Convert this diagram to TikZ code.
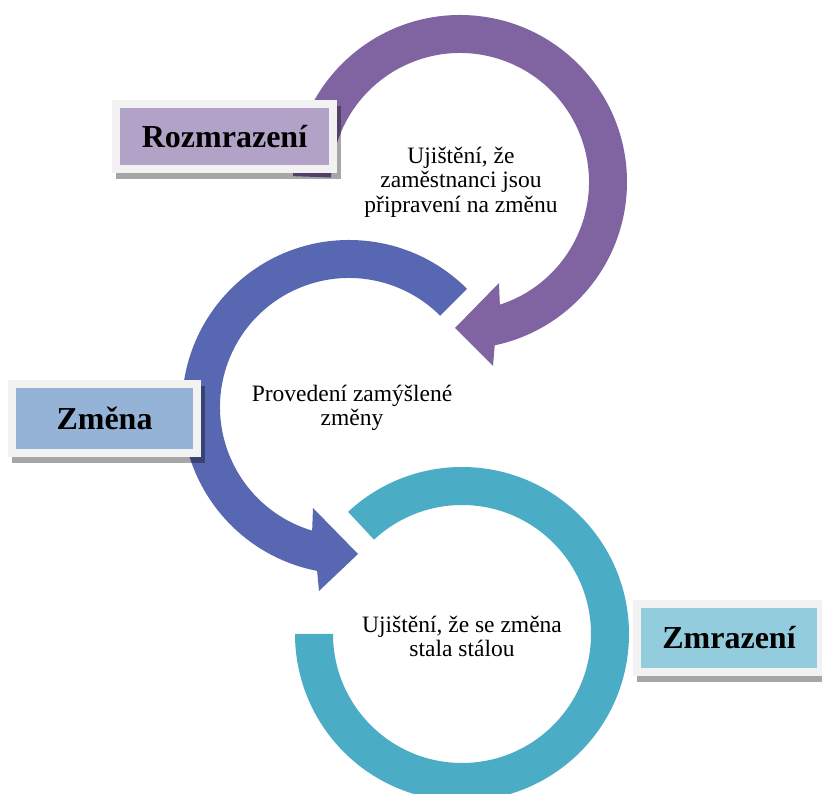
\documentclass[tikz,border=0pt]{standalone}
\usepackage{fontspec}
\setmainfont{Liberation Serif}
\usetikzlibrary{shadows}

\definecolor{ringpurple}{HTML}{8064A2}
\definecolor{ringblue}{HTML}{5867B2}
\definecolor{ringteal}{HTML}{4BACC6}
\definecolor{fillpurple}{HTML}{B3A2C7}
\definecolor{fillblue}{HTML}{95B3D7}
\definecolor{fillteal}{HTML}{93CDDD}
\definecolor{framegray}{HTML}{F2F2F2}

\tikzset{
  phasebox/.style={
    fill=framegray, inner sep=0pt,
    font=\fontsize{32}{38}\selectfont\bfseries,
    drop shadow={shadow xshift=3.5pt, shadow yshift=-6.5pt, fill=black, opacity=0.35},
    path picture={\fill[#1]
      ([shift={(8pt,8pt)}]path picture bounding box.south west) rectangle
      ([shift={(-8pt,-8pt)}]path picture bounding box.north east);}
  },
  steptext/.style={align=center, inner sep=0pt, font=\fontsize{23.5}{24.5}\selectfont},
}

\begin{document}
\begin{tikzpicture}[x=1pt, y=1pt]
  \useasboundingbox (0,0) rectangle (822,794);

  % freeze ring (teal), open at the left
  \begin{scope}[shift={(462,160)}]
    \fill[ringteal] (133:167pt) arc[start angle=133, end angle=-180, radius=167pt]
      -- (180:129pt) arc[start angle=-180, end angle=133, radius=129pt] -- cycle;
  \end{scope}

  % change ring (blue) with its arrow head
  \begin{scope}[shift={(349,387)}]
    \fill[ringblue] (45:167pt) arc[start angle=45, end angle=259, radius=167pt]
      -- (-30,-184) -- (9,-147) -- (-36,-101)
      -- (253.4:129pt) arc[start angle=253.4, end angle=45, radius=129pt] -- cycle;
  \end{scope}

  % unfreeze ring (purple) with its arrow head
  \begin{scope}[shift={(460,612)}]
    \fill[ringpurple] (178:167pt) arc[start angle=178, end angle=-78, radius=167pt]
      -- (33,-184) -- (-5,-146) -- (39,-101)
      -- (-72:129pt) arc[start angle=-72, end angle=178, radius=129pt] -- cycle;
  \end{scope}

  % step descriptions
  \node[steptext] (unfreezetext) at (461,612) {Ujištění, že\\zaměstnanci jsou\\připravení na změnu};
  \node[steptext] (changetext) at (352,386) {Provedení zamýšlené\\změny};
  \node[steptext] (freezetext) at (462,157.5) {Ujištění, že se změna\\stala stálou};

  % phase labels
  \node[phasebox=fillpurple, minimum width=225pt, minimum height=73pt] (unfreeze) at (224.5,657.5) {Rozmrazení};
  \node[phasebox=fillblue, minimum width=193pt, minimum height=77pt] (change) at (104.5,375.5) {Změna};
  \node[phasebox=fillteal, minimum width=192pt, minimum height=76pt] (freeze) at (729,156) {Zmrazení};
\end{tikzpicture}
\end{document}
